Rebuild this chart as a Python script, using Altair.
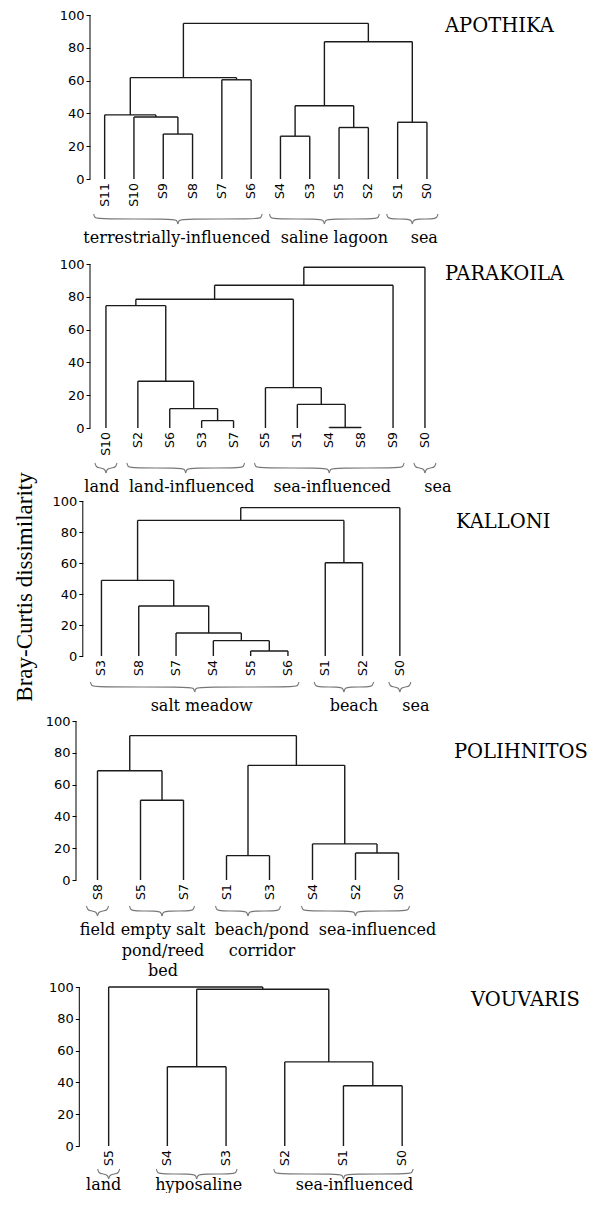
import altair as alt
import pandas as pd

# ---------------- data ----------------
TICKS = [0, 20, 40, 60, 80, 100]
Y_TITLE = "Bray-Curtis dissimilarity"

APO_NAME = "APOTHIKA"
APO_LEAVES = ["S11", "S10", "S9", "S8", "S7", "S6", "S4", "S3", "S5", "S2", "S1", "S0"]
APO_PAIRS = [("S9", "S8"), ("S10", 0), ("S11", 1), ("S7", "S6"), (2, 3),
             ("S4", "S3"), ("S5", "S2"), (5, 6), ("S1", "S0"), (7, 8), (4, 9)]
APO_HEIGHTS = [27.4, 37.8, 39.1, 60.5, 61.8, 26.1, 31.4, 44.7, 34.6, 83.7, 94.9]
APO_GROUPS = ["terrestrially-influenced", "saline lagoon", "sea"]
APO_SPANS = [("S11", "S6"), ("S4", "S2"), ("S1", "S0")]

PAR_NAME = "PARAKOILA"
PAR_LEAVES = ["S10", "S2", "S6", "S3", "S7", "S5", "S1", "S4", "S8", "S9", "S0"]
PAR_PAIRS = [("S3", "S7"), ("S6", 0), ("S2", 1), ("S10", 2), ("S4", "S8"),
             ("S1", 4), ("S5", 5), (3, 6), (7, "S9"), (8, "S0")]
PAR_HEIGHTS = [4.5, 11.8, 28.5, 74.6, 0.3, 14.4, 24.6, 78.5, 87.0, 98.0]
PAR_GROUPS = ["land", "land-influenced", "sea-influenced", "sea"]
PAR_SPANS = [("S10", "S10"), ("S2", "S7"), ("S5", "S9"), ("S0", "S0")]

KAL_NAME = "KALLONI"
KAL_LEAVES = ["S3", "S8", "S7", "S4", "S5", "S6", "S1", "S2", "S0"]
KAL_PAIRS = [("S5", "S6"), ("S4", 0), ("S7", 1), ("S8", 2), ("S3", 3),
             ("S1", "S2"), (4, 5), (6, "S0")]
KAL_HEIGHTS = [3.2, 9.9, 14.8, 32.3, 48.8, 60.2, 87.5, 95.7]
KAL_GROUPS = ["salt meadow", "beach", "sea"]
KAL_SPANS = [("S3", "S6"), ("S1", "S2"), ("S0", "S0")]

POL_NAME = "POLIHNITOS"
POL_LEAVES = ["S8", "S5", "S7", "S1", "S3", "S4", "S2", "S0"]
POL_PAIRS = [("S5", "S7"), ("S8", 0), ("S1", "S3"), ("S2", "S0"), ("S4", 3),
             (2, 4), (1, 5)]
POL_HEIGHTS = [50.2, 68.7, 15.3, 17.0, 22.7, 72.1, 90.8]
POL_GROUPS = ["field", "empty salt\npond/reed\nbed", "beach/pond\ncorridor", "sea-influenced"]
POL_SPANS = [("S8", "S8"), ("S5", "S7"), ("S1", "S3"), ("S4", "S0")]

VOU_NAME = "VOUVARIS"
VOU_LEAVES = ["S5", "S4", "S3", "S2", "S1", "S0"]
VOU_PAIRS = [("S4", "S3"), ("S1", "S0"), ("S2", 1), (0, 2), ("S5", 3)]
VOU_HEIGHTS = [49.8, 37.9, 52.9, 98.6, 100.0]
VOU_GROUPS = ["land", "hyposaline", "sea-influenced"]
VOU_SPANS = [("S5", "S5"), ("S4", "S3"), ("S2", "S0")]

# ---------------- layout / style ----------------
SANS = "DejaVu Sans"
WIDE_SERIF = "DejaVu Serif"
SERIF = "Liberation Serif"
OX = 76          # page x of every panel's origin
W = 370          # plot width of every panel
LAYOUT = {
    APO_NAME: dict(axis_x=90, step=29.3, unit=1.64, height=249, tx=369, ty=11,
                   btop=35, gap=29, ldx=[-1, 10, 12]),
    PAR_NAME: dict(axis_x=90, step=31.9, unit=1.64, height=236.7, tx=369, ty=10,
                   btop=35, gap=29, ldx=[-4, 6, 3, 13]),
    KAL_NAME: dict(axis_x=82.8, step=37.3, unit=1.55, height=219.3, tx=380, ty=21,
                   btop=26, gap=29, ldx=[7, 10, 16]),
    POL_NAME: dict(axis_x=76, step=43.0, unit=1.59, height=266, tx=378, ty=31,
                   btop=26, gap=29, ldx=[0, 1, 14, 22]),
    VOU_NAME: dict(axis_x=79.3, step=58.7, unit=1.59, height=203, tx=395, ty=13,
                   btop=23, gap=21, ldx=[-5, 2, 11]),
}


def build_panel(name, leaves, pairs, heights, groups, spans, ytitle=False):
    lay = LAYOUT[name]
    step, unit, H = lay["step"], lay["unit"], lay["height"]
    a = lay["axis_x"] - OX
    d0 = -0.5 - a / step
    xs = alt.Scale(domain=[d0, d0 + W / step], nice=False, zero=False)
    ys = alt.Scale(domain=[100 - H / unit, 100], nice=False, zero=False)
    yaxis = alt.Axis(values=TICKS, offset=-a, domain=False, grid=False, title=None,
                     tickSize=4, tickColor="black", tickWidth=1,
                     labelFont=SANS, labelFontSize=13, labelColor="black",
                     labelPadding=2)

    def X(f):
        return alt.X(f, type="quantitative", scale=xs, axis=None)

    def Y(f):
        return alt.Y(f, type="quantitative", scale=ys, axis=yaxis)

    # dendrogram links
    pos = {l: (float(i), 0.0) for i, l in enumerate(leaves)}
    nodes, segs = [], []
    for (p, q), h in zip(pairs, heights):
        xa, ha = pos[p] if isinstance(p, str) else nodes[p]
        xb, hb = pos[q] if isinstance(q, str) else nodes[q]
        segs.append(dict(x=xa, x2=xa, y=ha, y2=h))
        segs.append(dict(x=xa, x2=xb, y=h, y2=h))
        segs.append(dict(x=xb, x2=xb, y=hb, y2=h))
        nodes.append(((xa + xb) / 2, h))
    seg_df = pd.DataFrame(segs)

    links = alt.Chart(seg_df).mark_rule(color="#1a1a1a", strokeWidth=1.4).encode(
        x=X("x"), x2="x2", y=Y("y"), y2="y2")

    axis_df = pd.DataFrame({"lo": [min(TICKS)], "hi": [max(TICKS)]})
    axis_line = alt.Chart(axis_df).mark_rule(color="black", strokeWidth=1).encode(
        x=alt.value(a), y=Y("lo"), y2="hi")

    leaf_df = pd.DataFrame({"name": leaves, "i": list(range(len(leaves))),
                            "z": [0.0] * len(leaves)})
    leaf_txt = alt.Chart(leaf_df).mark_text(
        angle=270, align="right", baseline="middle", dx=-4,
        font=SANS, fontSize=12.5, color="black").encode(
        x=X("i"), y=Y("z"), text="name:N")

    # braces + group labels
    top = lay["btop"]
    brows, grows = [], []
    for g, (s, e) in enumerate(spans):
        i0, i1 = leaves.index(s), leaves.index(e)
        xa, xb = i0 * step - 11, i1 * step + 11
        xm = (xa + xb) / 2
        left = [(xa, 0), (xa + 1, 4), (xa + 5, 5), (xm - 5, 5), (xm - 1, 6), (xm, 10)]
        right = [(xm, 10), (xm + 1, 6), (xm + 5, 5), (xb - 5, 5), (xb - 1, 4), (xb, 0)]
        for side, pts in (("L", left), ("R", right)):
            for k, (px, py) in enumerate(pts):
                brows.append(dict(bid=f"{g}{side}", k=k, bx=px / step,
                                  by=-(top + py) / unit))
        grows.append(dict(label=groups[g],
                          gx=(i0 + i1) / 2 + lay["ldx"][g] / step,
                          gy=-(top + lay["gap"]) / unit))
    brace_df = pd.DataFrame(brows)
    group_df = pd.DataFrame(grows)

    braces = alt.Chart(brace_df).mark_line(
        color="#777777", strokeWidth=1.1, interpolate="basis").encode(
        x=X("bx"), y=Y("by"), detail="bid:N", order="k:Q")

    glabels = alt.Chart(group_df).mark_text(
        font=WIDE_SERIF, fontSize=16, baseline="alphabetic", align="center",
        lineBreak="\n", lineHeight=20.5, color="black").encode(
        x=X("gx"), y=Y("gy"), text="label:N")

    title = alt.Chart(pd.DataFrame({"t": [name]})).mark_text(
        font=WIDE_SERIF, fontSize=19.5, align="left", baseline="middle",
        color="black").encode(
        x=alt.value(lay["tx"]), y=alt.value(lay["ty"]), text="t:N")

    layers = [links, axis_line, leaf_txt, braces, glabels, title]
    if ytitle:
        yt = alt.Chart(pd.DataFrame({"t": [Y_TITLE]})).mark_text(
            font=SERIF, fontSize=23, angle=270, align="center", baseline="middle",
            color="black").encode(
            x=alt.value(25 - OX), y=alt.value(86), text="t:N")
        layers.append(yt)

    return alt.layer(*layers).properties(width=W, height=H)


panels = [
    build_panel(APO_NAME, APO_LEAVES, APO_PAIRS, APO_HEIGHTS, APO_GROUPS, APO_SPANS),
    build_panel(PAR_NAME, PAR_LEAVES, PAR_PAIRS, PAR_HEIGHTS, PAR_GROUPS, PAR_SPANS),
    build_panel(KAL_NAME, KAL_LEAVES, KAL_PAIRS, KAL_HEIGHTS, KAL_GROUPS, KAL_SPANS, ytitle=True),
    build_panel(POL_NAME, POL_LEAVES, POL_PAIRS, POL_HEIGHTS, POL_GROUPS, POL_SPANS),
    build_panel(VOU_NAME, VOU_LEAVES, VOU_PAIRS, VOU_HEIGHTS, VOU_GROUPS, VOU_SPANS),
]

chart = alt.vconcat(*panels, spacing=0, bounds="flush").properties(
    padding={"left": 5, "top": 1, "right": 0, "bottom": 0},
    background="white",
).configure_view(strokeWidth=0, strokeOpacity=0)

chart.save("out.html", embed_options={"renderer": "svg", "actions": False})
